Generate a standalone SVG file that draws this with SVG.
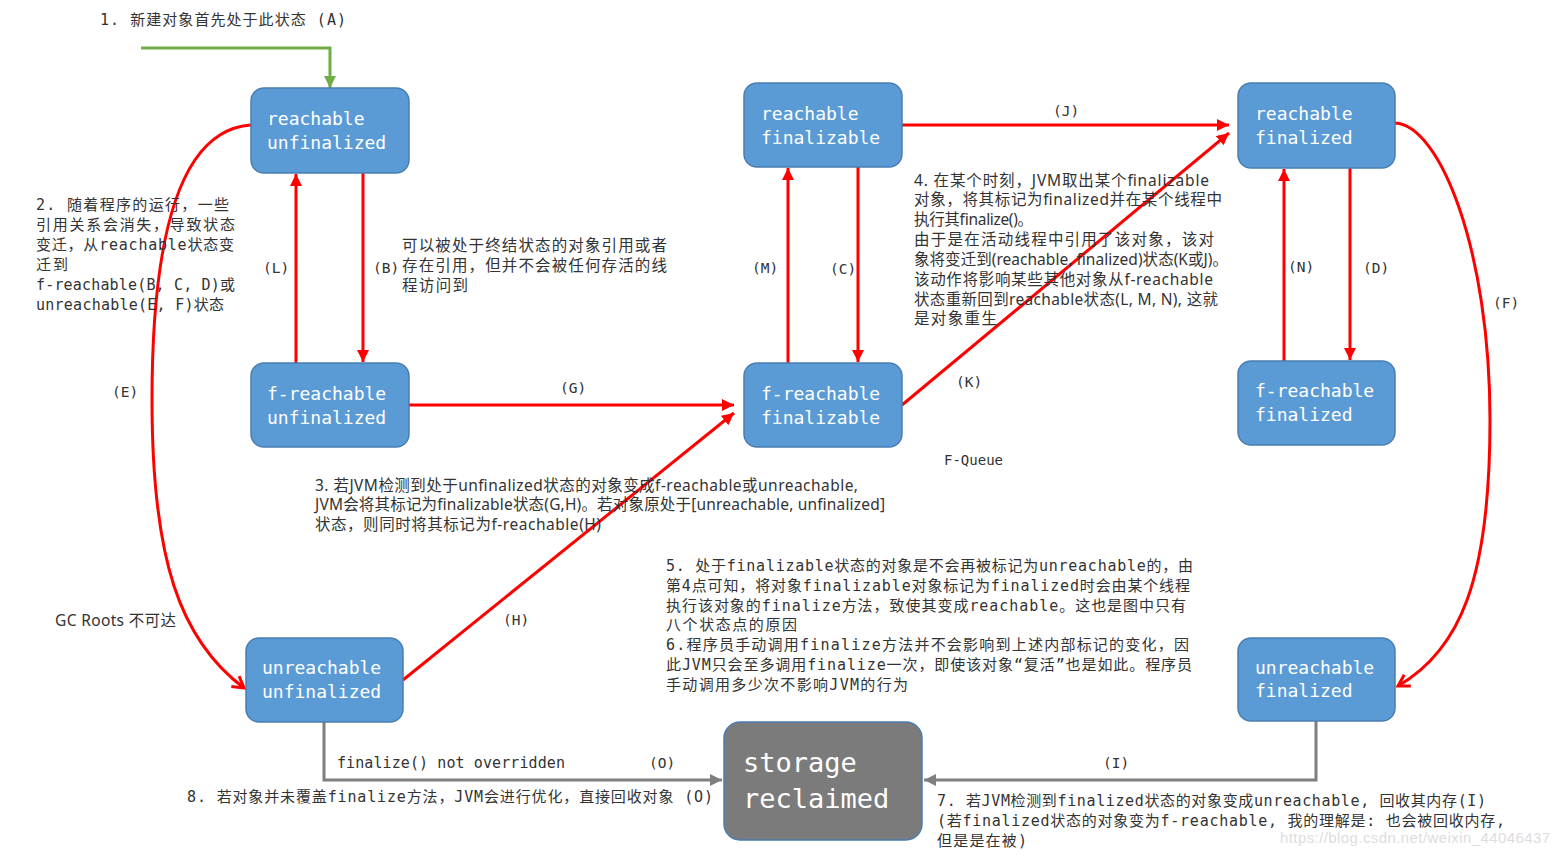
<svg xmlns="http://www.w3.org/2000/svg" width="1560" height="856" viewBox="0 0 1560 856">
<style>
.node{fill:#5B9BD5;stroke:#4A7EB0;stroke-width:1.5}
.gray{fill:#7B7B7B;stroke:#4A7EB0;stroke-width:1.5}
.nt{font-family:"DejaVu Sans Mono","Liberation Mono",monospace;font-size:18px;fill:#fff}
.st{font-family:"DejaVu Sans Mono","Liberation Mono",monospace;font-size:27px;fill:#fff}
.mono{font-family:"DejaVu Sans Mono","Liberation Mono","Noto Sans CJK SC",monospace;font-size:15px;fill:#333}
.lbl{font-family:"DejaVu Sans Mono","Liberation Mono",monospace;font-size:14.5px;fill:#333}
.sans{font-family:"Noto Sans","Noto Sans CJK SC",sans-serif;font-size:15.5px;fill:#333}
.red{fill:none;stroke:#FF0000;stroke-width:3}
.grn{fill:none;stroke:#70AD47;stroke-width:3}
.gln{fill:none;stroke:#7F7F7F;stroke-width:3}
</style>
<defs>
<marker id="ar" markerUnits="userSpaceOnUse" markerWidth="14" markerHeight="12" refX="12" refY="6" orient="auto"><path d="M0,0 L12,6 L0,12 z" fill="#FF0000"/></marker>
<marker id="ag" markerUnits="userSpaceOnUse" markerWidth="14" markerHeight="12" refX="12" refY="6" orient="auto"><path d="M0,0 L12,6 L0,12 z" fill="#70AD47"/></marker>
<marker id="agr" markerUnits="userSpaceOnUse" markerWidth="14" markerHeight="12" refX="12" refY="6" orient="auto"><path d="M0,0 L12,6 L0,12 z" fill="#7F7F7F"/></marker>
<marker id="av" markerUnits="userSpaceOnUse" markerWidth="16" markerHeight="16" refX="13" refY="8" orient="auto"><path d="M2,1.5 L13,8 L2,14.5" fill="none" stroke="#FF0000" stroke-width="3"/></marker>
</defs>

<g id="connectors">
<path class="grn" d="M141,48 H330 V88" marker-end="url(#ag)"/>
<path class="red" d="M296,363 V174" marker-end="url(#ar)"/>
<path class="red" d="M363,173 V362" marker-end="url(#ar)"/>
<path class="red" d="M788,363 V168" marker-end="url(#ar)"/>
<path class="red" d="M858,167 V362" marker-end="url(#ar)"/>
<path class="red" d="M1284,361 V169" marker-end="url(#ar)"/>
<path class="red" d="M1350,168 V360" marker-end="url(#ar)"/>
<path class="red" d="M902,125 H1229" marker-end="url(#ar)"/>
<path class="red" d="M409,405 H734" marker-end="url(#ar)"/>
<path class="red" d="M902,405 L1229,133" marker-end="url(#ar)"/>
<path class="red" d="M403,680 L734,413" marker-end="url(#ar)"/>
<path class="red" d="M251,125 C175,130 152,250 152,400 C152,560 180,640 244,688" marker-end="url(#av)"/>
<path class="red" d="M1395,123 C1440,125 1490,250 1490,420 C1490,580 1460,650 1398,686" marker-end="url(#av)"/>
<path class="gln" d="M324,722 V780 H722" marker-end="url(#agr)"/>
<path class="gln" d="M1316,721 V780 H924" marker-end="url(#agr)"/>
</g>

<g id="n-reachable-unfinalized"><rect class="node" x="251" y="88" width="158" height="85" rx="13"/><text class="nt" x="267" y="125">reachable</text><text class="nt" x="267" y="149">unfinalized</text></g>
<g id="n-reachable-finalizable"><rect class="node" x="744" y="83" width="158" height="84" rx="13"/><text class="nt" x="761" y="120">reachable</text><text class="nt" x="761" y="144">finalizable</text></g>
<g id="n-reachable-finalized"><rect class="node" x="1238" y="83" width="157" height="85" rx="13"/><text class="nt" x="1255" y="120">reachable</text><text class="nt" x="1255" y="144">finalized</text></g>
<g id="n-freachable-unfinalized"><rect class="node" x="251" y="363" width="158" height="84" rx="13"/><text class="nt" x="267" y="400">f-reachable</text><text class="nt" x="267" y="424">unfinalized</text></g>
<g id="n-freachable-finalizable"><rect class="node" x="744" y="363" width="158" height="84" rx="13"/><text class="nt" x="761" y="400">f-reachable</text><text class="nt" x="761" y="424">finalizable</text></g>
<g id="n-freachable-finalized"><rect class="node" x="1238" y="361" width="157" height="84" rx="13"/><text class="nt" x="1255" y="397">f-reachable</text><text class="nt" x="1255" y="421">finalized</text></g>
<g id="n-unreachable-unfinalized"><rect class="node" x="246" y="638" width="157" height="84" rx="13"/><text class="nt" x="262" y="674">unreachable</text><text class="nt" x="262" y="698">unfinalized</text></g>
<g id="n-unreachable-finalized"><rect class="node" x="1238" y="638" width="157" height="83" rx="13"/><text class="nt" x="1255" y="674">unreachable</text><text class="nt" x="1255" y="697">finalized</text></g>
<g id="n-storage-reclaimed"><rect class="gray" x="724" y="722" width="198" height="118" rx="16"/><text class="st" x="743" y="772">storage</text><text class="st" x="743" y="808">reclaimed</text></g>

<g id="labels">
<text class="lbl" x="263" y="273">(L)</text>
<text class="lbl" x="373" y="273">(B)</text>
<text class="lbl" x="752" y="273">(M)</text>
<text class="lbl" x="830" y="274">(C)</text>
<text class="lbl" x="1288" y="272">(N)</text>
<text class="lbl" x="1363" y="273">(D)</text>
<text class="lbl" x="1493" y="308">(F)</text>
<text class="lbl" x="112" y="397">(E)</text>
<text class="lbl" x="560" y="393">(G)</text>
<text class="lbl" x="1053" y="116">(J)</text>
<text class="lbl" x="956" y="387">(K)</text>
<text class="lbl" x="503" y="625">(H)</text>
<text class="lbl" x="649" y="768">(O)</text>
<text class="lbl" x="1103" y="768">(I)</text>
<text class="lbl" x="944" y="465" style="font-size:14px">F-Queue</text>
<text class="sans" x="55" y="626" textLength="121">GC Roots 不可达</text>
<text class="mono" x="337" y="768" textLength="228">finalize() not overridden</text>
</g>

<g id="notes">
<text class="mono" x="100" y="25" textLength="246">1. 新建对象首先处于此状态 (A)</text>

<text class="mono" x="36" y="210" textLength="193">2. 随着程序的运行，一些</text>
<text class="mono" x="36" y="230" textLength="199">引用关系会消失，导致状态</text>
<text class="mono" x="36" y="250" textLength="198">变迁，从reachable状态变</text>
<text class="mono" x="36" y="270" textLength="32">迁到</text>
<text class="mono" x="36" y="290" textLength="199">f-reachable(B, C, D)或</text>
<text class="mono" x="36" y="310" textLength="188">unreachable(E, F)状态</text>

<text class="sans" x="402" y="251" textLength="265">可以被处于终结状态的对象引用或者</text>
<text class="sans" x="402" y="271" textLength="265">存在引用，但并不会被任何存活的线</text>
<text class="sans" x="402" y="291" textLength="66">程访问到</text>

<text class="sans" x="914" y="186" textLength="295">4. 在某个时刻，JVM取出某个finalizable</text>
<text class="sans" x="914" y="205" textLength="308">对象，将其标记为finalized并在某个线程中</text>
<text class="sans" x="914" y="225" textLength="119">执行其finalize()。</text>
<text class="sans" x="914" y="245" textLength="300">由于是在活动线程中引用了该对象，该对</text>
<text class="sans" x="914" y="265" textLength="314">象将变迁到(reachable, finalized)状态(K或J)。</text>
<text class="sans" x="914" y="285" textLength="299">该动作将影响某些其他对象从f-reachable</text>
<text class="sans" x="914" y="305" textLength="304">状态重新回到reachable状态(L, M, N), 这就</text>
<text class="sans" x="914" y="324" textLength="83">是对象重生</text>

<text class="sans" x="315" y="491" textLength="543">3. 若JVM检测到处于unfinalized状态的对象变成f-reachable或unreachable,</text>
<text class="sans" x="315" y="510" textLength="570">JVM会将其标记为finalizable状态(G,H)。若对象原处于[unreachable, unfinalized]</text>
<text class="sans" x="315" y="530" textLength="286">状态，则同时将其标记为f-reachable(H)</text>

<text class="mono" x="666" y="571" textLength="527">5. 处于finalizable状态的对象是不会再被标记为unreachable的，由</text>
<text class="mono" x="666" y="591" textLength="524">第4点可知，将对象finalizable对象标记为finalized时会由某个线程</text>
<text class="mono" x="666" y="611" textLength="520">执行该对象的finalize方法，致使其变成reachable。这也是图中只有</text>
<text class="mono" x="666" y="630" textLength="131">八个状态点的原因</text>
<text class="mono" x="666" y="650" textLength="523">6.程序员手动调用finalize方法并不会影响到上述内部标记的变化，因</text>
<text class="mono" x="666" y="670" textLength="526">此JVM只会至多调用finalize一次，即使该对象“复活”也是如此。程序员</text>
<text class="mono" x="666" y="690" textLength="242">手动调用多少次不影响JVM的行为</text>

<text class="mono" x="187" y="802" textLength="526">8. 若对象并未覆盖finalize方法，JVM会进行优化，直接回收对象 (O)</text>

<text class="mono" x="937" y="806" textLength="549">7. 若JVM检测到finalized状态的对象变成unreachable, 回收其内存(I)</text>
<text class="mono" x="937" y="826" textLength="568">(若finalized状态的对象变为f-reachable, 我的理解是: 也会被回收内存,</text>
<text class="mono" x="937" y="846" textLength="90">但是是在被)</text>

<text x="1280" y="843" textLength="270" style="font-family:'Liberation Sans',sans-serif;font-size:15px;fill:#DDDDDD">https://blog.csdn.net/weixin_44046437</text>
</g>
</svg>
